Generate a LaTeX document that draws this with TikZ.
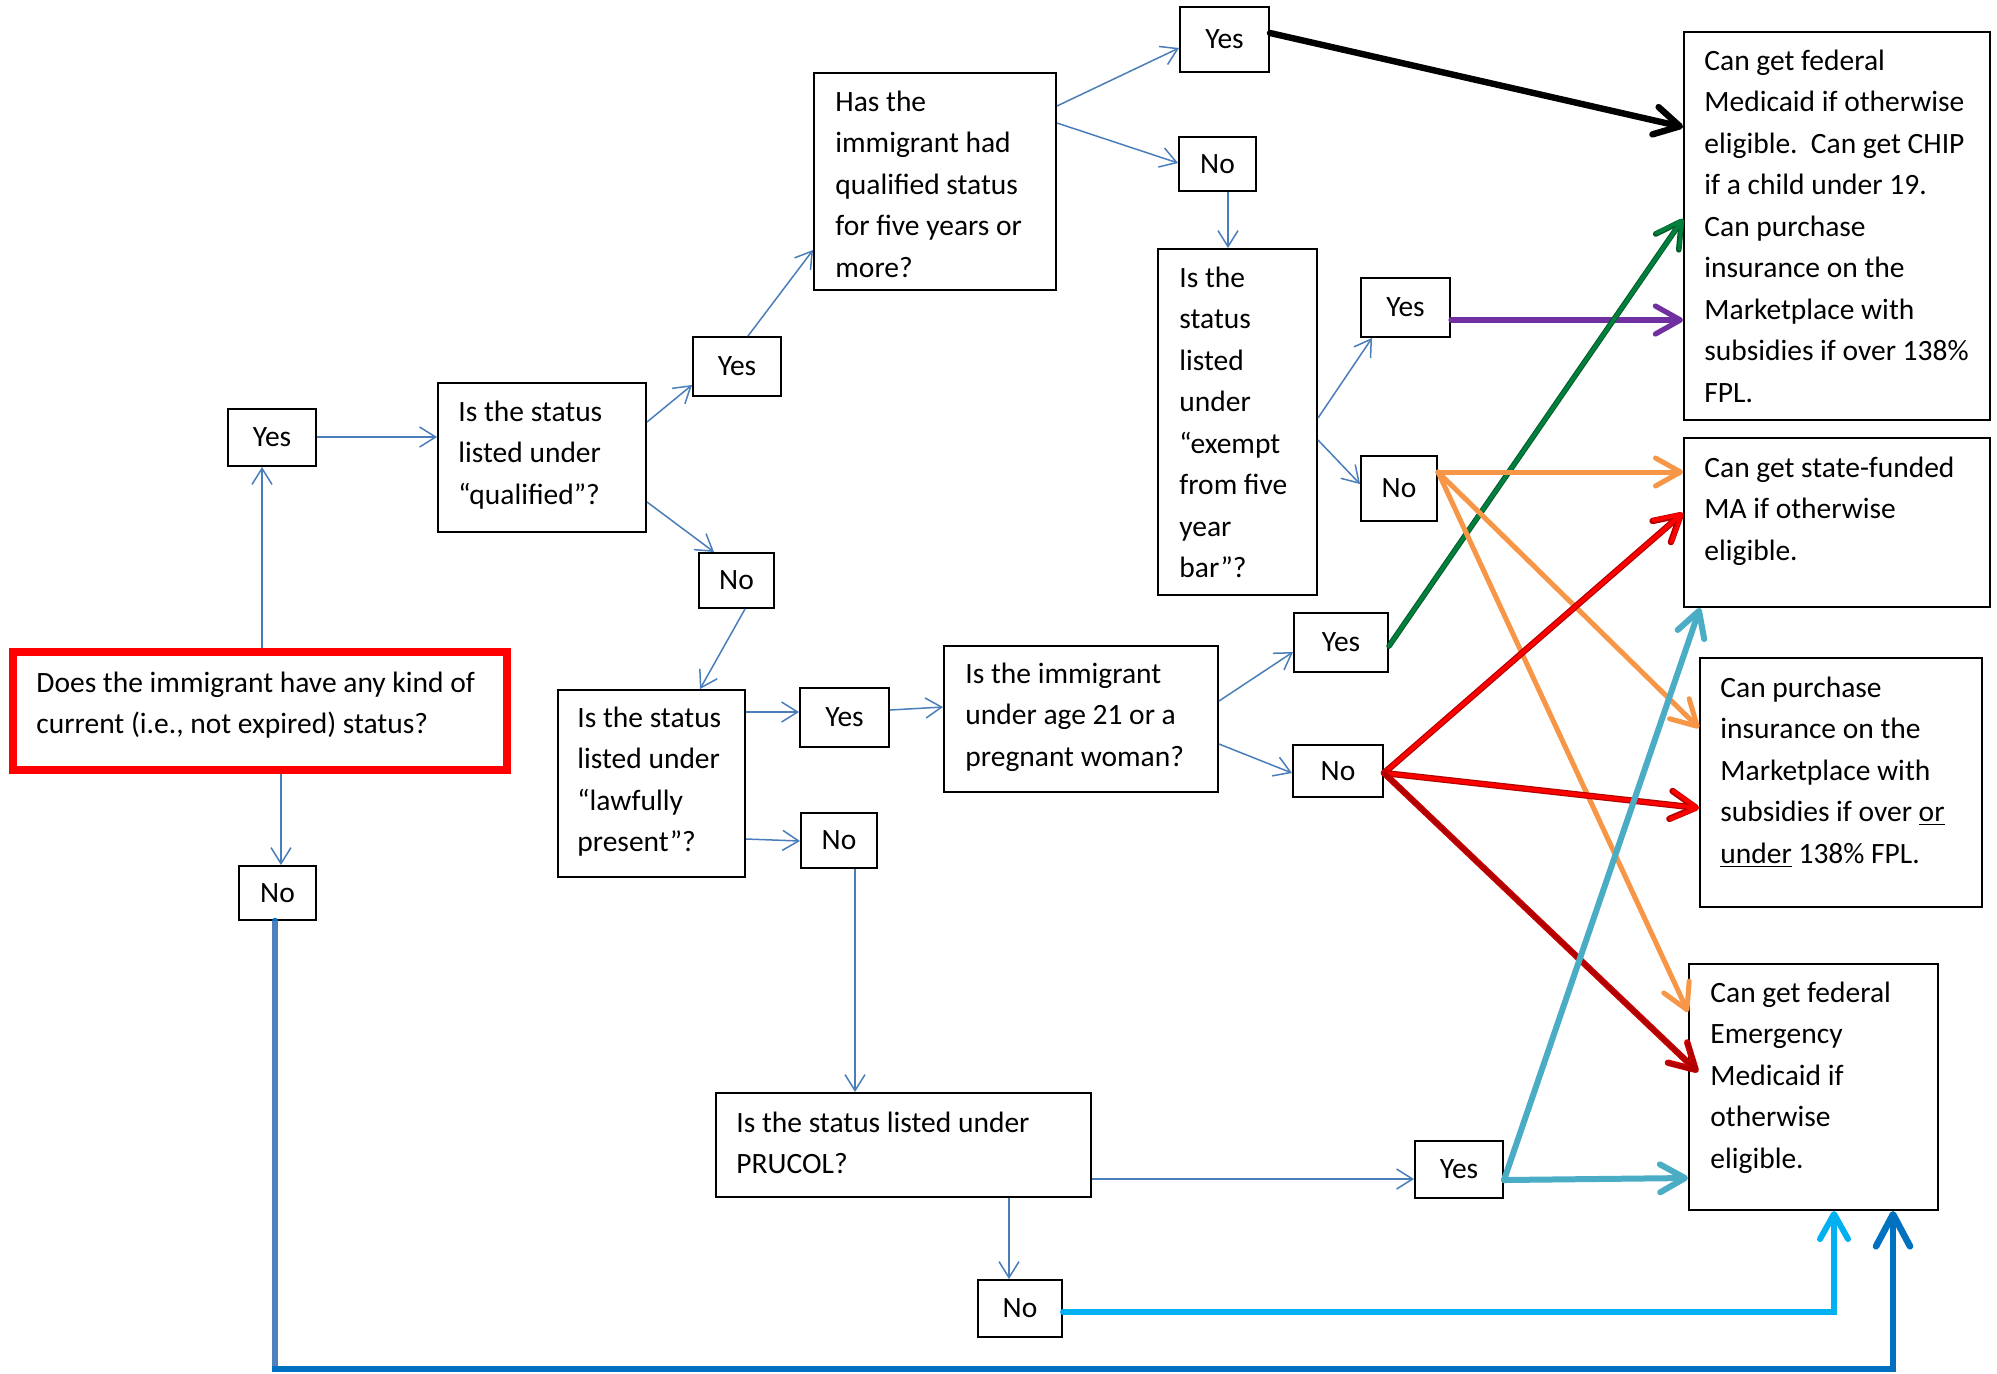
\documentclass[tikz,border=0pt]{standalone}
\usepackage{fontspec}
\setmainfont{Carlito}
\usetikzlibrary{arrows.meta,calc}
\definecolor{thinblue}{HTML}{4A7EBB}
\definecolor{ppurple}{HTML}{7030A0}
\definecolor{pgreen}{RGB}{0,128,60}
\definecolor{pdkgreen}{RGB}{0,90,40}
\definecolor{porange}{HTML}{F79646}
\definecolor{pred}{HTML}{FF0000}
\definecolor{pdarkred}{HTML}{B00000}
\definecolor{pteal}{HTML}{4BACC6}
\definecolor{pcyan}{HTML}{00B0F0}
\definecolor{pblue}{HTML}{0070C0}
\definecolor{psteel}{HTML}{4F81BD}
\newcommand\bigbx[6][]{\node[bbox,#1, minimum width={(#4-#2)*0.5pt}, minimum height={(#6-#3)*0.5pt}] (#5) at ({(#2+#4)/2},{(#3+#6)/2}) {};}
\newcommand\smallbx[6]{\node[sbx, minimum width={(#4-#2)*0.5pt}, minimum height={(#5-#3)*0.5pt}] (#1) at ({(#2+#4)/2},{(#3+#5)/2}) {#6};}
\tikzset{
 bbox/.style={draw=black, line width=1pt, inner sep=0pt, fill=white},
 txt/.style={anchor=base west, align=left, inner sep=0pt, font=\fontsize{14.75pt}{20.75pt}\selectfont},
 sbx/.style={draw=black, line width=1pt, inner sep=0pt, fill=white, font=\fontsize{14.75pt}{20.75pt}\selectfont},
 thinarr/.style={draw=thinblue, line width=0.75pt, -{Straight Barb[length=8pt,width=10pt]}},
 fatarr/.style={line width=#1, line cap=round, -{Straight Barb[length=12.5pt,width=14pt,round]}},
 bigarr/.style={line width=#1, line cap=round, -{Straight Barb[length=16pt,width=17pt,round]}},
}
\begin{document}
\begin{tikzpicture}[x=0.5pt,y=-0.5pt]
\useasboundingbox[fill=white] (0,0) rectangle (1997,1373);
% boxes
\node[draw=red, line width=4pt, inner sep=0pt, minimum width={(507-13)*0.5pt}, minimum height={(770-652)*0.5pt}] (q0) at ({(13+507)/2},{(652+770)/2}) {};
\bigbx{438}{383}{646}{q1}{532}
\bigbx{814}{73}{1056}{q2}{290}
\bigbx{1158}{249}{1317}{q3}{595}
\bigbx{558}{690}{745}{q4}{877}
\bigbx{944}{646}{1218}{q5}{792}
\bigbx{716}{1093}{1091}{q6}{1197}
\bigbx{1684}{32}{1990}{rA}{420}
\bigbx{1684}{438}{1990}{rB}{607}
\bigbx{1700}{658}{1982}{rC}{907}
\bigbx{1689}{964}{1938}{rD}{1210}
% texts (anchored at the baseline of the last line)
\node[txt] (q0t) at (36,733.5) {Does the immigrant have any kind of\\current (i.e., not expired) status?};
\node[txt] (q1t) at (458,504) {Is the status\\listed under\\“qualified”?};
\node[txt] (q2t) at (835,277) {Has the\\immigrant had\\qualified status\\for five years or\\more?};
\node[txt] (q3t) at (1179,577.5) {Is the\\status\\listed\\under\\“exempt\\from five\\year\\bar”?};
\node[txt] (q4t) at (577,851.5) {Is the status\\listed under\\“lawfully\\present”?};
\node[txt] (q5t) at (965,766) {Is the immigrant\\under age 21 or a\\pregnant woman?};
\node[txt] (q6t) at (736,1173.5) {Is the status listed under\\PRUCOL?};
\node[txt] (rAt) at (1704,402) {Can get federal\\Medicaid if otherwise\\eligible.\ \ Can get CHIP\\if a child under 19.\\Can purchase\\insurance on the\\Marketplace with\\subsidies if over 138\%\\FPL.};
\node[txt] (rBt) at (1704,560) {Can get state-funded\\MA if otherwise\\eligible.};
\node[txt] (rCt) at (1720,863) {Can purchase\\insurance on the\\Marketplace with\\subsidies if over \underline{or}\\\underline{under} 138\% FPL.};
\node[txt] (rDt) at (1710,1168) {Can get federal\\Emergency\\Medicaid if\\otherwise\\eligible.};
% small boxes
\smallbx{yes1}{228}{409}{316}{466}{Yes}
\smallbx{no1}{239}{866}{316}{920}{No}
\smallbx{yes2}{693}{337}{781}{396}{Yes}
\smallbx{no2}{699}{553}{774}{608}{No}
\smallbx{yes3}{1180}{7}{1269}{72}{Yes}
\smallbx{no3}{1179}{137}{1256}{191}{No}
\smallbx{yes4}{1361}{278}{1450}{337}{Yes}
\smallbx{no4}{1361}{456}{1437}{521}{No}
\smallbx{yes5}{800}{688}{889}{747}{Yes}
\smallbx{no5}{801}{813}{877}{868}{No}
\smallbx{yes6}{1294}{613}{1388}{672}{Yes}
\smallbx{no6}{1293}{745}{1383}{797}{No}
\smallbx{yes7}{1415}{1141}{1503}{1198}{Yes}
\smallbx{no7}{978}{1280}{1062}{1337}{No}
% thin connectors
\draw[thinarr] (q0.north -| 262,0) -- (yes1.south -| 262,0);
\draw[thinarr] (yes1.east |- 0,437) -- (q1.west |- 0,437);
\draw[thinarr] (q1.east |- 0,422) -- (yes2.west |- 0,385);
\draw[thinarr] (q1.east |- 0,502) -- (no2.north -| 714,0);
\draw[thinarr] (yes2.north -| 748,0) -- (q2.west |- 0,250);
\draw[thinarr] (q2.east |- 0,106) -- (yes3.west |- 0,48);
\draw[thinarr] (q2.east |- 0,123) -- (no3.west |- 0,163);
\draw[thinarr] (no3.south -| 1228,0) -- (q3.north -| 1228,0);
\draw[thinarr] (q3.east |- 0,418) -- (yes4.south -| 1372,0);
\draw[thinarr] (q3.east |- 0,440) -- (no4.west |- 0,484);
\draw[thinarr] (no2.south -| 745,0) -- (q4.north -| 700,0);
\draw[thinarr] (q4.east |- 0,712) -- (yes5.west |- 0,712);
\draw[thinarr] (yes5.east |- 0,710) -- (q5.west |- 0,707);
\draw[thinarr] (q4.east |- 0,839) -- (no5.west |- 0,841);
\draw[thinarr] (q5.east |- 0,701) -- (yes6.west |- 0,652);
\draw[thinarr] (q5.east |- 0,744) -- (no6.west |- 0,773);
\draw[thinarr] (no5.south -| 855,0) -- (q6.north -| 855,0);
\draw[thinarr] (q6.east |- 0,1179) -- (yes7.west |- 0,1179);
\draw[thinarr] (q6.south -| 1009,0) -- (no7.north -| 1009,0);
\draw[thinarr] (q0.south -| 281,0) -- (no1.north -| 281,0);
% thick connectors
\draw[fatarr=3.2pt, draw=black] (yes3.east |- 0,33) -- (rA.west |- 0,127);
\draw[fatarr=2.6pt, draw=ppurple] (yes4.east |- 0,320) -- (rA.west |- 0,320);
\draw[fatarr=2.8pt, draw=pdkgreen] (yes6.east |- 0,646) -- (rA.west |- 0,219);
\draw[fatarr=1.8pt, draw=pgreen] (yes6.east |- 0,646) -- (rA.west |- 0,219);
\draw[fatarr=2.5pt, draw=porange] (no4.east |- 0,472) -- (rB.west |- 0,472);
\draw[fatarr=2.5pt, draw=porange] (no4.east |- 0,472) -- (rC.west |- 0,728);
\draw[fatarr=2.5pt, draw=porange] (no4.east |- 0,472) -- (rD.west |- 0,1012);
\draw[fatarr=3.2pt, draw=pdarkred] (no6.east |- 0,773) -- (rB.west |- 0,513);
\draw[fatarr=2pt, draw=pred] (no6.east |- 0,773) -- (rB.west |- 0,513);
\draw[fatarr=3.2pt, draw=pdarkred] (no6.east |- 0,773) -- (rC.west |- 0,808);
\draw[fatarr=2pt, draw=pred] (no6.east |- 0,773) -- (rC.west |- 0,808);
\draw[fatarr=3.2pt, draw=pred!80!black] (no6.east |- 0,773) -- ([xshift=5pt]rD.west |- 0,1072);
\draw[fatarr=1.8pt, draw=pdarkred] (no6.east |- 0,773) -- ([xshift=5pt]rD.west |- 0,1072);
\draw[fatarr=3pt, draw=pteal] (yes7.east |- 0,1180) -- (rB.south -| 1700,0);
\draw[fatarr=3pt, draw=pteal] (yes7.east |- 0,1180) -- (rD.west |- 0,1178);
\draw[fatarr=3pt, draw=pcyan] (no7.east |- 0,1312) -| (rD.south -| 1834,0);
\coordinate (bend) at (1893,1369);
\draw[bigarr=3.3pt, draw=pblue] (no1.south -| 275,0) |- (bend) -- (rD.south -| 1893,0);
\draw[line width=3pt, draw=psteel] (no1.south -| 275,0) -- (275,1366);
\end{tikzpicture}
\end{document}
